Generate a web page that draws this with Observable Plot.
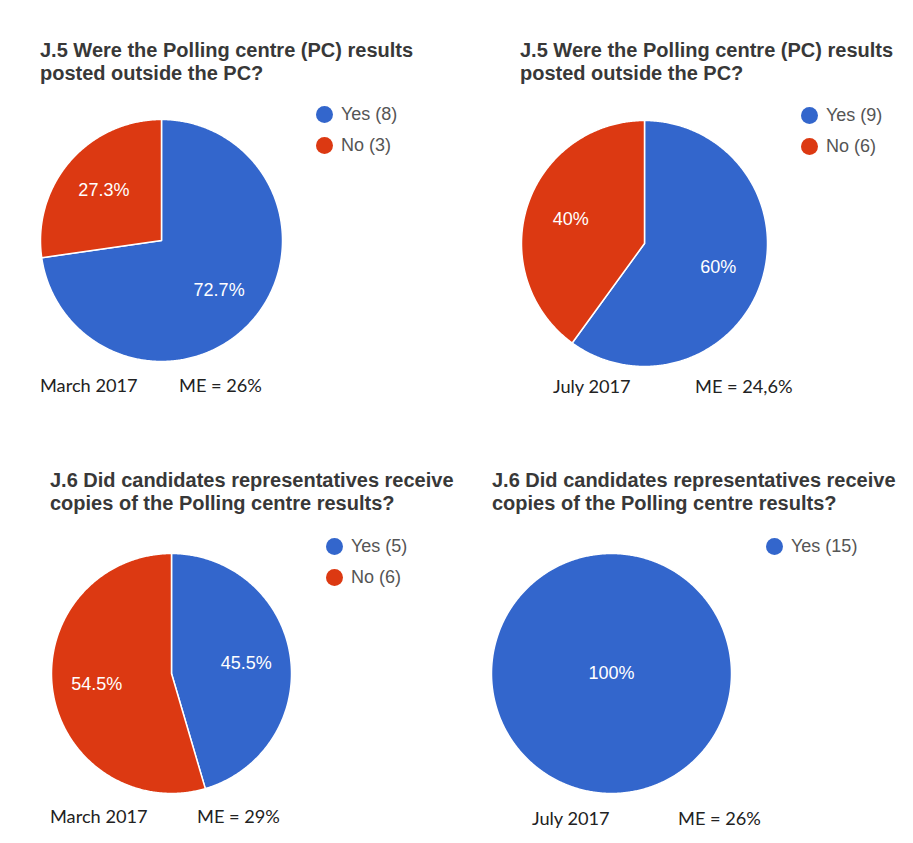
<!DOCTYPE html>
<html>
<head>
<meta charset="utf-8">
<script src="https://cdn.jsdelivr.net/npm/d3@7"></script>
<script src="https://cdn.jsdelivr.net/npm/@observablehq/plot@0.6"></script>
<style>
  html, body { margin: 0; padding: 0; background: #fff; }
  #root { position: relative; width: 913px; height: 843px; overflow: hidden; background: #fff; }
  .title { position: absolute; font-family: "Liberation Sans", Arial, sans-serif; font-weight: bold; font-size: 20px; line-height: 23px; color: #383838; white-space: nowrap; }
  .legend { position: absolute; font-family: "Liberation Sans", Arial, sans-serif; font-size: 18px; color: #555; }
  .legend .row { display: flex; align-items: center; height: 31px; white-space: nowrap; }
  .legend .sw { width: 17px; height: 17px; border-radius: 50%; margin-right: 8px; flex: none; }
  .cap { position: absolute; font-family: Lato, "Open Sans", sans-serif; font-size: 18.2px; line-height: 1; color: #222; white-space: nowrap; }
  .pie { position: absolute; }
</style>
</head>
<body>
<div id="root"></div>
<script>
// ---- data ----
const categories = ["Yes", "No"];
const titleLines = [
  ["J.5 Were the Polling centre (PC) results", "posted outside the PC?"],
  ["J.5 Were the Polling centre (PC) results", "posted outside the PC?"],
  ["J.6 Did candidates representatives receive", "copies of the Polling centre results?"],
  ["J.6 Did candidates representatives receive", "copies of the Polling centre results?"]
];
const yesCounts = [8, 9, 5, 15];
const noCounts = [3, 6, 6, 0];
const periods = ["March 2017", "July 2017", "March 2017", "July 2017"];
const marginsOfError = ["ME = 26%", "ME = 24,6%", "ME = 29%", "ME = 26%"];
const colors = ["#3366cc", "#dc3912"];

// ---- layout (pixels) ----
const layout = [
  {title: [40, 39],  legend: [316, 99],  pie: [161, 240, 121], cap: [40, 179, 376]},
  {title: [520, 39], legend: [801, 100], pie: [644, 243, 123], cap: [553, 695, 377]},
  {title: [50, 469], legend: [326, 531], pie: [171, 673, 120], cap: [50, 197, 807]},
  {title: [492, 469], legend: [766, 531], pie: [611, 673, 120], cap: [532, 678, 809]}
];

const root = document.getElementById("root");
const fmtPct = v => (+(v * 100).toFixed(1)) + "%";

for (let i = 0; i < 4; i++) {
  const L = layout[i];
  const counts = [yesCounts[i], noCounts[i]];
  const total = d3.sum(counts);

  // title
  const t = document.createElement("div");
  t.className = "title";
  t.style.left = L.title[0] + "px";
  t.style.top = L.title[1] + "px";
  t.innerHTML = titleLines[i].join("<br>");
  root.appendChild(t);

  // legend
  const lg = document.createElement("div");
  lg.className = "legend";
  lg.style.left = L.legend[0] + "px";
  lg.style.top = L.legend[1] + "px";
  categories.forEach((c, k) => {
    if (counts[k] === 0) return;
    const row = document.createElement("div");
    row.className = "row";
    const sw = document.createElement("span");
    sw.className = "sw";
    sw.style.background = colors[k];
    const tx = document.createElement("span");
    tx.textContent = `${c} (${counts[k]})`;
    row.appendChild(sw); row.appendChild(tx);
    lg.appendChild(row);
  });
  root.appendChild(lg);

  // slices as polygons (clockwise from 12 o'clock)
  const rows = [];
  const labels = [];
  let start = 0;
  categories.forEach((c, k) => {
    const frac = counts[k] / total;
    if (frac === 0) return;
    const a0 = start * 2 * Math.PI, a1 = (start + frac) * 2 * Math.PI;
    const full = frac >= 1;
    if (!full) rows.push({slice: c, cat: c, x: 0, y: 0});
    const n = Math.max(2, Math.ceil((a1 - a0) / (Math.PI / 360)));
    for (let j = 0; j <= n; j++) {
      const a = a0 + (a1 - a0) * j / n;
      rows.push({slice: c, cat: c, x: Math.sin(a), y: Math.cos(a)});
    }
    if (!full) rows.push({slice: c, cat: c, x: 0, y: 0});
    const am = (a0 + a1) / 2;
    const lr = full ? 0 : 0.63;
    labels.push({x: lr * Math.sin(am), y: lr * Math.cos(am), text: fmtPct(frac)});
    start += frac;
  });

  const [cx, cy, r] = L.pie;
  const m = 2;
  const plot = Plot.plot({
    width: 2 * (r + m),
    height: 2 * (r + m),
    margin: m,
    x: {domain: [-1, 1], axis: null},
    y: {domain: [-1, 1], axis: null},
    color: {domain: categories, range: colors},
    style: {background: "transparent"},
    marks: [
      Plot.line(rows, {x: "x", y: "y", z: "slice", fill: "cat", stroke: "white", strokeWidth: 1.5, curve: "linear"}),
      Plot.text(labels, {x: "x", y: "y", text: "text", fill: "white", fontSize: 18, fontFamily: "Liberation Sans, Arial, sans-serif"})
    ]
  });
  plot.classList.add("pie");
  plot.style.left = (cx - r - m) + "px";
  plot.style.top = (cy - r - m) + "px";
  root.appendChild(plot);

  // captions
  const c1 = document.createElement("div");
  c1.className = "cap";
  c1.style.left = L.cap[0] + "px";
  c1.style.top = L.cap[2] + "px";
  c1.textContent = periods[i];
  root.appendChild(c1);
  const c2 = document.createElement("div");
  c2.className = "cap";
  c2.style.left = L.cap[1] + "px";
  c2.style.top = L.cap[2] + "px";
  c2.textContent = marginsOfError[i];
  root.appendChild(c2);
}
</script>
</body>
</html>
